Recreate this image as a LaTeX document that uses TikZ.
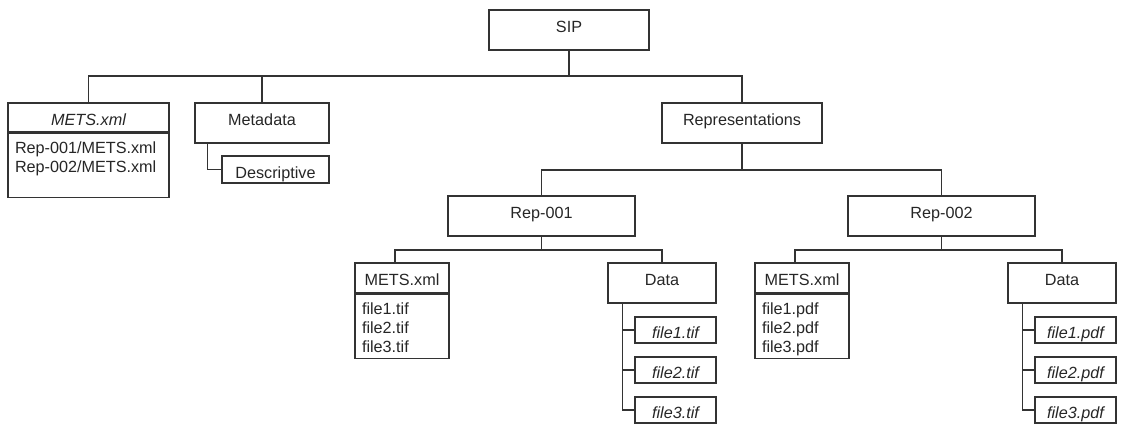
\documentclass[tikz,border=0pt]{standalone}
\usepackage{fontspec}
\setmainfont{Liberation Sans}
\usetikzlibrary{calc}
\begin{document}
\begin{tikzpicture}[x=1pt,y=-1pt,
  basefont/.style={font=\fontsize{16.2}{19.2}\selectfont},
  box/.style={draw=black!80, line width=1.1pt, rectangle, inner sep=0pt,
    text=black!85, basefont, text depth=0pt},
  % baseline sits 22.5 below the top edge: text height = 45 - box height
  tall/.style={box, minimum height=40pt, text height=5pt},
  head/.style={box, minimum height=30pt, text height=15pt},
  filebox/.style={box, minimum width=81pt, minimum height=26pt, text height=17pt,
    font=\fontsize{16.2}{19.2}\selectfont\itshape},
  listbox/.style={box, minimum height=64pt, anchor=north, text height=0pt,
    text depth=24pt, align=left},
  link/.style={draw=black!80, line width=1.1pt}]
\useasboundingbox (0,0) rectangle (1122,429);

% top level
\node[tall, minimum width=160pt] (sip) at (569,30) {SIP};

% package METS file
\node[box, minimum width=161pt, minimum height=29pt, text height=16pt,
  font=\fontsize{16.2}{19.2}\selectfont\itshape] (rmh) at (88.5,117.5) {METS.xml};
\node[listbox, minimum width=161pt, text width=147pt] (rmb) at (rmh.south)
  {\begin{tabular}[t]{@{}l@{}}Rep-001/METS.xml\\Rep-002/METS.xml\end{tabular}};

% metadata
\node[tall, minimum width=134pt] (meta) at (262,123) {Metadata};
\node[box, minimum width=107pt, minimum height=27pt, text height=17pt] (desc) at (275.5,169.5) {Descriptive};

% representations
\node[tall, minimum width=160pt] (repr) at (742,123) {Representations};
\node[tall, minimum width=187pt] (rep1) at (541.5,216) {Rep-001};
\node[tall, minimum width=187pt] (rep2) at (941.5,216) {Rep-002};

% Rep-001 contents
\node[head, minimum width=94pt] (m1h) at (402,278) {METS.xml};
\node[listbox, minimum width=94pt, text width=80pt] (m1b) at (m1h.south)
  {\begin{tabular}[t]{@{}l@{}}file1.tif\\file2.tif\\file3.tif\end{tabular}};
\node[tall, minimum width=108pt] (d1) at (662,283) {Data};
\node[filebox] (f1a) at (675.5,330) {file1.tif};
\node[filebox] (f1b) at (675.5,370) {file2.tif};
\node[filebox] (f1c) at (675.5,410) {file3.tif};

% Rep-002 contents
\node[head, minimum width=94pt] (m2h) at (802,278) {METS.xml};
\node[listbox, minimum width=94pt, text width=80pt] (m2b) at (m2h.south)
  {\begin{tabular}[t]{@{}l@{}}file1.pdf\\file2.pdf\\file3.pdf\end{tabular}};
\node[tall, minimum width=108pt] (d2) at (1062,283) {Data};
\node[filebox] (f2a) at (1075.5,330) {file1.pdf};
\node[filebox] (f2b) at (1075.5,370) {file2.pdf};
\node[filebox] (f2c) at (1075.5,410) {file3.pdf};

% connector junctions
\coordinate (bus0) at (569,76);
\coordinate (bus1) at (742,170);
\coordinate (bus2) at (541.5,250);
\coordinate (bus3) at (941.5,250);
\coordinate (mt) at ($(meta.south west)+(13,0)$);
\coordinate (t1) at ($(d1.south west)+(15,0)$);
\coordinate (t2) at ($(d2.south west)+(15,0)$);
\coordinate (m1top) at ($(m1h.north)+(-7,0)$);
\coordinate (m2top) at ($(m2h.north)+(-7,0)$);

% SIP level
\path[link] (sip.south) -- (bus0);
\path[link] (rmh.north) |- (bus0) -| (repr.north);
\path[link] (meta.north) -- (meta.north |- bus0);
\path[link] (mt) |- (desc.west);

% representations level
\path[link] (repr.south) -- (bus1);
\path[link] (rep1.north) |- (bus1) -| (rep2.north);

% Rep-001
\path[link] (rep1.south) -- (bus2);
\path[link] (m1top) |- (bus2) -| (d1.north);
\path[link] (t1) |- (f1c.west);
\path[link] (f1a.west) -- (f1a.west -| t1);
\path[link] (f1b.west) -- (f1b.west -| t1);

% Rep-002
\path[link] (rep2.south) -- (bus3);
\path[link] (m2top) |- (bus3) -| (d2.north);
\path[link] (t2) |- (f2c.west);
\path[link] (f2a.west) -- (f2a.west -| t2);
\path[link] (f2b.west) -- (f2b.west -| t2);
\end{tikzpicture}
\end{document}
